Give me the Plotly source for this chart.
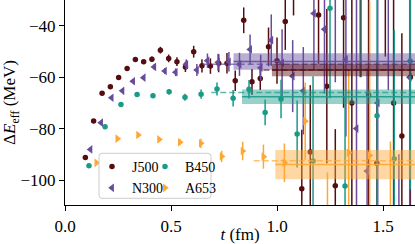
import plotly.graph_objects as go

# ---------------- data ----------------
colors = {"J500": "#560d0f", "N300": "#674c9c", "B450": "#1b9a88", "A653": "#ffa733"}
symbols = {"J500": "circle", "N300": "triangle-left", "B450": "circle", "A653": "triangle-right"}

t_J500 = [0.096, 0.135, 0.175, 0.214, 0.253, 0.293, 0.332, 0.371, 0.410, 0.450,
          0.489, 0.528, 0.568, 0.607, 0.646, 0.686, 0.725, 0.764, 0.803, 0.843,
          0.882, 0.921, 0.960, 1.000, 1.039, 1.078, 1.117, 1.157, 1.196, 1.235,
          1.275, 1.314, 1.353, 1.393, 1.432, 1.471, 1.511, 1.550, 1.589, 1.629]
E_J500 = [-91.2, -77.0, -66.3, -63.7, -60.1, -56.6, -53.1, -54.0, -53.0, -49.5,
          -52.7, -54.0, -56.0, -50.1, -55.6, -55.7, -54.6, -54.6, -61.4, -37.9,
          -61.8, -60.5, -48.2, -53.6, -38.4, -12.0, -103.4, -89.1, -35.8, -63.5,
          -102.2, -36.9, -70.0, -20.0, -66.8, -93.5, -15.0, -70.0, -82.9, -60.0]
err_J500 = [0.4, 0.4, 0.4, 0.5, 0.5, 0.6, 0.7, 0.8, 1.0, 1.3,
            1.5, 1.7, 2.0, 2.3, 2.6, 3.0, 3.5, 4.0, 4.0, 5.0,
            5.0, 4.5, 7.5, 9.0, 11.0, 24.0, 23.0, 26.0, 19.0, 30.0,
            22.0, 35.0, 45.0, 40.0, 45.0, 40.0, 37.0, 50.0, 40.0, 55.0]

t_B450 = [0.113, 0.189, 0.264, 0.340, 0.415, 0.491, 0.566, 0.642, 0.717, 0.793,
          0.868, 0.944, 1.019, 1.095, 1.170, 1.250, 1.321, 1.397, 1.472, 1.553, 1.628]
E_B450 = [-94.4, -79.3, -70.6, -66.7, -67.2, -65.7, -67.8, -66.6, -64.6, -68.2,
          -64.7, -73.7, -68.5, -82.1, -92.6, -33.2, -102.3, -15.0, -75.0, -91.7, -53.7]
err_B450 = [0.4, 0.4, 0.5, 0.6, 0.8, 1.0, 1.4, 1.8, 2.5, 3.2,
            3.6, 5.0, 7.5, 13.0, 33.0, 35.0, 35.0, 45.0, 60.0, 50.0, 50.0]

t_N300 = [0.120, 0.170, 0.220, 0.271, 0.321, 0.371, 0.421, 0.471, 0.522, 0.572,
          0.622, 0.672, 0.722, 0.773, 0.823, 0.873, 0.923, 0.973, 1.024, 1.074,
          1.124, 1.174, 1.224, 1.275, 1.325, 1.375, 1.425, 1.475, 1.525, 1.575, 1.626]
E_N300 = [-88.1, -77.7, -68.0, -65.3, -61.6, -60.2, -56.0, -57.6, -58.1, -55.0,
          -57.2, -53.6, -54.2, -54.0, -55.0, -49.2, -56.3, -45.6, -54.4, -59.6,
          -65.3, -35.2, -41.4, -20.0, -53.1, -80.0, -96.5, -70.0, -20.0, -130.0, -60.0]
err_N300 = [0.4, 0.4, 0.4, 0.5, 0.6, 0.8, 1.0, 1.2, 1.5, 1.9,
            2.3, 2.8, 3.3, 3.8, 4.5, 5.8, 5.0, 10.0, 13.0, 14.0,
            17.0, 22.0, 25.0, 42.0, 30.0, 50.0, 40.0, 55.0, 45.0, 40.0, 60.0]

t_A653 = [0.148, 0.247, 0.345, 0.444, 0.542, 0.641, 0.739, 0.838, 0.936, 1.035,
          1.133, 1.238, 1.338, 1.437, 1.535]
E_A653 = [-93.3, -83.9, -82.5, -84.2, -85.3, -85.7, -90.8, -88.7, -90.9, -93.3,
          -77.1, -125.0, -89.4, -90.5, -130.0]
err_A653 = [0.5, 0.5, 0.6, 0.8, 1.2, 1.8, 2.2, 3.6, 4.7, 7.5,
            15.0, 28.0, 32.0, 60.0, 45.0]

series = {
    "J500": (t_J500, E_J500, err_J500),
    "B450": (t_B450, E_B450, err_B450),
    "N300": (t_N300, E_N300, err_N300),
    "A653": (t_A653, E_A653, err_A653),
}

# plateau fits: band (value +- error) and an extended dashed estimate
fit_names = ["N300", "J500", "B450", "A653"]
fit_tmin = [0.795, 0.976, 0.835, 0.992]
fit_tmax = [1.70, 1.70, 1.70, 1.70]
fit_value = [-53.9, -57.2, -67.6, -94.0]
fit_error = [3.2, 2.4, 2.85, 5.65]
alt_tmin = [0.65, 0.936, 0.69, 0.89]
alt_value = [-55.0, -57.2, -66.0, -92.5]

tick_x = [0.0, 0.5, 1.0, 1.5]
tick_x_labels = ["0.0", "0.5", "1.0", "1.5"]
tick_y = [-100, -80, -60, -40]

FONT = "Liberation Serif, Times New Roman, Times, serif"


def rgba(hex_color, a):
    h = hex_color.lstrip("#")
    r, g, b = int(h[0:2], 16), int(h[2:4], 16), int(h[4:6], 16)
    return f"rgba({r},{g},{b},{a})"


fig = go.Figure()

legend_of = {"J500": "legend", "N300": "legend", "B450": "legend2", "A653": "legend2"}
for name in ["J500", "N300", "B450", "A653"]:
    t, E, err = series[name]
    c = colors[name]
    fig.add_trace(go.Scatter(
        x=t, y=E, mode="markers", name=name,
        marker=dict(color=c, size=5.5 if symbols[name] == "circle" else 7.5,
                    symbol=symbols[name], line=dict(width=0)),
        error_y=dict(type="data", array=err, color=c, thickness=1.5, width=0),
        legend=legend_of[name], cliponaxis=True,
    ))

for name, t0, t1, v, e, ta, va in zip(fit_names, fit_tmin, fit_tmax, fit_value,
                                       fit_error, alt_tmin, alt_value):
    c = colors[name]
    fig.add_trace(go.Scatter(
        x=[t0, t1, t1, t0, t0], y=[v + e, v + e, v - e, v - e, v + e],
        mode="lines", fill="toself", fillcolor=rgba(c, 0.45),
        line=dict(width=0), showlegend=False, hoverinfo="skip"))
    fig.add_trace(go.Scatter(
        x=[t0, t1], y=[v, v], mode="lines",
        line=dict(color=rgba(c, 0.9), width=1.5), showlegend=False, hoverinfo="skip"))
    fig.add_trace(go.Scatter(
        x=[ta, t1], y=[va, va], mode="lines",
        line=dict(color=rgba(c, 0.7), width=1.5, dash="6px,3px"),
        showlegend=False, hoverinfo="skip"))

W, H = 415, 244
ml, mb = 65, 39
pw, ph = W - ml, H - mb


def px_to_paper(xp, yp):
    return (xp - ml) / pw, (ph - yp) / ph


# legend frame (rounded)
bx0, by0 = px_to_paper(99, 198.3)
bx1, by1 = px_to_paper(211, 153.3)
rx, ry = 3 / pw, 3 / ph
path = (f"M {bx0+rx},{by0} L {bx1-rx},{by0} Q {bx1},{by0} {bx1},{by0+ry} "
        f"L {bx1},{by1-ry} Q {bx1},{by1} {bx1-rx},{by1} L {bx0+rx},{by1} "
        f"Q {bx0},{by1} {bx0},{by1-ry} L {bx0},{by0+ry} Q {bx0},{by0} {bx0+rx},{by0} Z")
fig.add_shape(type="path", path=path, xref="paper", yref="paper",
              fillcolor="rgba(255,255,255,0.8)", line=dict(color="#cccccc", width=1),
              layer="above")

l1x, l1y = px_to_paper(92, 151)
l2x, _ = px_to_paper(145, 151)
legend_common = dict(bgcolor="rgba(0,0,0,0)", borderwidth=0,
                     font=dict(family=FONT, size=14, color="black"),
                     xanchor="left", yanchor="top", tracegroupgap=0,
                     itemwidth=30, orientation="v")
fig.update_layout(
    width=W, height=H,
    margin=dict(l=ml, r=0, t=0, b=mb, pad=0, autoexpand=False),
    paper_bgcolor="white", plot_bgcolor="white",
    font=dict(family=FONT, size=17, color="black"),
    showlegend=True,
    legend=dict(x=l1x, y=l1y, **legend_common),
    legend2=dict(x=l2x, y=l1y, **legend_common),
    xaxis=dict(range=[0, pw / 212.0], tickvals=tick_x, ticktext=tick_x_labels,
               showline=True, linecolor="black", linewidth=1.2, mirror=False,
               ticks="outside", ticklen=5, tickwidth=1.2, tickcolor="black",
               showgrid=False, zeroline=False, automargin=False,
               tickfont=dict(family=FONT, size=17),
               title=dict(text="<i>t</i> (fm)", font=dict(family=FONT, size=17))),
    yaxis=dict(range=[-109.7, -30.0], tickvals=tick_y,
               showline=True, linecolor="black", linewidth=1.2, mirror=False,
               ticks="outside", ticklen=5, tickwidth=1.2, tickcolor="black",
               showgrid=False, zeroline=False, automargin=False,
               tickfont=dict(family=FONT, size=17),
               title=dict(text="Δ<i>E</i><sub>eff</sub> (MeV)",
                          font=dict(family=FONT, size=17))),
)

fig.write_html("out.html", config={"displayModeBar": False},
               post_script="document.body.style.margin='0';document.body.style.overflow='hidden';")
